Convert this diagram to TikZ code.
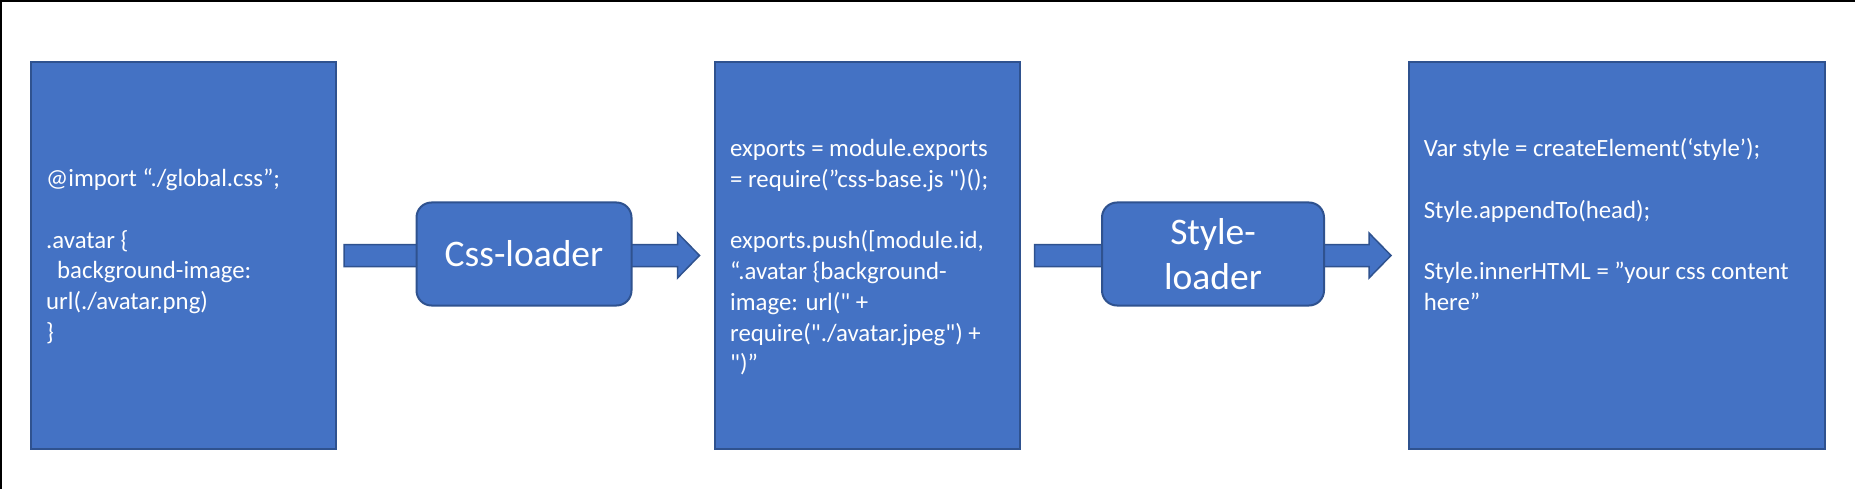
\documentclass[tikz,border=0pt]{standalone}
\usepackage{fontspec}
\setmainfont{Carlito}[Ligatures=TeXOff]
\usetikzlibrary{calc}
\definecolor{boxblue}{HTML}{4472C4}
\definecolor{edgeblue}{HTML}{2F528F}
\begin{document}
\begin{tikzpicture}[x=1pt,y=-1pt,
  codebox/.style={draw=edgeblue, fill=boxblue, line width=2pt, inner sep=0, anchor=north west, minimum height=386},
  codetext/.style={text=white, inner sep=0, anchor=north west, align=left, font=\fontsize{24.8}{30.7}\selectfont},
  loaderbox/.style={draw=edgeblue, fill=boxblue, line width=2pt, rounded corners=15pt, text=white, align=center,
    font=\fontsize{37.5}{45}\selectfont, minimum height=103, inner sep=0},
  blockarrow/.style={draw=edgeblue, fill=boxblue, line width=1.5pt, line join=miter}]
\useasboundingbox (0,0) rectangle (1855,489);
\fill[white] (0,0) rectangle (1855,489);
\draw[line width=1.6pt, black] (0.8,489) -- (0.8,0.8) -- (1855,0.8);

% code boxes
\node[codebox, minimum width=305] (b1) at (29.5,61.5) {};
\node[codebox, minimum width=305] (b2) at (714,61.5) {};
\node[codebox, minimum width=416] (b3) at (1407.5,61.5) {};

% block arrows (drawn before the loader boxes, which sit on top)
\coordinate (a1s) at ([xshift=7.5pt]b1.east);
\coordinate (a1e) at ([xshift=-14.5pt]b2.west);
\coordinate (a2s) at ([xshift=13.5pt]b2.east);
\coordinate (a2e) at ([xshift=-16.5pt]b3.west);
\foreach \s/\e in {a1s/a1e, a2s/a2e}{
  \draw[blockarrow] ($(\s)+(0,-11)$) -- ($(\e)+(-22,-11)$) -- ($(\e)+(-22,-22.5)$) -- (\e)
    -- ($(\e)+(-22,22.5)$) -- ($(\e)+(-22,11)$) -- ($(\s)+(0,11)$) -- cycle;
}

% loader boxes
\node[loaderbox, minimum width=215] (css) at (524,254) {Css-loader};
\node[loaderbox, minimum width=222] (sty) at (1213,254) {Style-\\loader};

% texts
\node[codetext] (t1) at (46,165) {\strut @import “./global.css”;\\[30.7pt]
.avatar \{\\
\hspace*{11pt}background-image:\\
url(./avatar.png)\\
\}};
\node[codetext] (t2) at (730,135.2) {\strut exports = module.exports\\
= require(”css-base.js ")();\\[30.7pt]
exports.push([module.id,\\
“.avatar \{background-\\
image: url(" +\\
require("./avatar.jpeg") +\\
")”};
\node[codetext] (t3) at (1423.6,135.2) {\strut Var style = createElement(‘style’);\\[30.7pt]
Style.appendTo(head);\\[30.7pt]
Style.innerHTML = ”your css content\\
here”};
\end{tikzpicture}
\end{document}
